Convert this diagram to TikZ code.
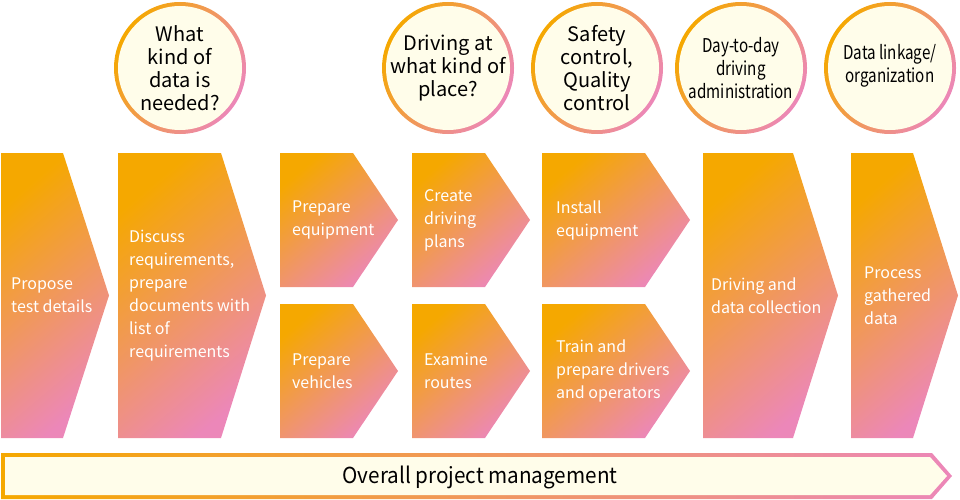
\documentclass[tikz,border=0pt]{standalone}
\usepackage{fontspec}
\setmainfont{Noto Sans CJK JP}
\newfontfamily\narrowfont[FakeStretch=0.8]{Noto Sans CJK JP}
\newfontfamily\barfont[FakeStretch=0.94]{Noto Sans CJK JP}
\usetikzlibrary{positioning}

\definecolor{flowOrange}{RGB}{245,168,0}
\definecolor{flowPink}{RGB}{236,135,185}
\definecolor{flowCream}{RGB}{255,253,234}

% arrow-like step: name, x left, x shoulder, x tip, y top, y bottom
\newcommand{\flowstep}[6]{%
    \shade[stepfill] (#2,#5) -- (#3,#5) -- (#4,{(#5+#6)/2}) -- (#3,#6) -- (#2,#6) -- cycle;
    \coordinate (#1) at (#2,{(#5+#6)/2});
}
% question bubble: name, x centre
\newcommand{\askring}[2]{%
    \shade[ringfill] (#2,68) circle (66);
    \fill[flowCream] (#2,68) circle (62);
    \coordinate (#1) at (#2,68);
}

\begin{document}
\begin{tikzpicture}[x=1pt,y=-1pt,
    stepfill/.style={top color=flowOrange, bottom color=flowPink, shading angle=40},
    ringfill/.style={top color=flowOrange, bottom color=flowPink, shading angle=60},
    steptext/.style={anchor=west, text=white, align=left, inner sep=0pt,
        font=\fontsize{16}{23}\selectfont},
    asktext/.style={align=center, inner sep=0pt, font=\fontsize{20}{23}\selectfont},
    narrowtext/.style={align=center, inner sep=0pt, font=\narrowfont\fontsize{19}{23}\selectfont}]

    \useasboundingbox (0,0) rectangle (960,500);

    % questions
    \askring{q-data}{180}
    \askring{q-place}{448}
    \askring{q-safety}{597}
    \askring{q-daily}{741}
    \askring{q-link}{890}
    \node[asktext] (ask-data) at (q-data) {What\\kind of\\data is\\needed?};
    \node[asktext] (ask-place) at (q-place) {Driving at\\what kind of\\place?};
    \node[asktext] (ask-safety) at (q-safety) {Safety\\control,\\Quality\\control};
    \node[narrowtext] (ask-daily) at (q-daily) {Day-to-day\\driving\\administration};
    \node[narrowtext, font=\narrowfont\fontsize{19}{23}\selectfont] (ask-link) at ([yshift=2]q-link) {Data linkage/\\organization};

    % steps
    \flowstep{s-propose}{1}{63}{109}{153}{438}
    \flowstep{s-discuss}{118}{221}{266}{153}{438}
    \flowstep{s-equip}{280}{353}{398}{153}{287}
    \flowstep{s-vehicle}{280}{353}{398}{304}{438}
    \flowstep{s-plan}{412}{485}{530}{153}{287}
    \flowstep{s-route}{412}{485}{530}{304}{438}
    \flowstep{s-install}{542}{645}{690}{153}{287}
    \flowstep{s-train}{542}{645}{690}{304}{438}
    \flowstep{s-drive}{703}{793}{838}{153}{438}
    \flowstep{s-process}{851}{913}{958}{153}{438}

    \node[steptext] (t-propose) at ([xshift=10]s-propose) {Propose\\test details};
    \node[steptext] (t-discuss) at ([xshift=11]s-discuss) {Discuss\\requirements,\\prepare\\documents with\\list of\\requirements};
    \node[steptext] (t-equip) at ([xshift=12]s-equip) {Prepare\\equipment};
    \node[steptext] (t-vehicle) at ([xshift=12]s-vehicle) {Prepare\\vehicles};
    \node[steptext] (t-plan) at ([xshift=12]s-plan) {Create\\driving\\plans};
    \node[steptext] (t-route) at ([xshift=12]s-route) {Examine\\routes};
    \node[steptext] (t-install) at ([xshift=14]s-install) {Install\\equipment};
    \node[steptext] (t-train) at ([xshift=14]s-train) {Train and\\prepare drivers\\and operators};
    \node[steptext] (t-drive) at ([xshift=8]s-drive) {Driving and\\data collection};
    \node[steptext] (t-process) at ([xshift=13]s-process) {Process\\gathered\\data};

    % management bar
    \shade[left color=flowOrange, right color=flowPink]
        (1,453) -- (932,453) -- (952,476) -- (932,499) -- (1,499) -- cycle;
    \fill[flowCream] (5,457) -- (930,457) -- (947,476) -- (930,495) -- (5,495) -- cycle;
    \node[inner sep=0pt, font=\barfont\fontsize{22}{24}\selectfont] (manage) at (480,477) {Overall project management};
\end{tikzpicture}
\end{document}
